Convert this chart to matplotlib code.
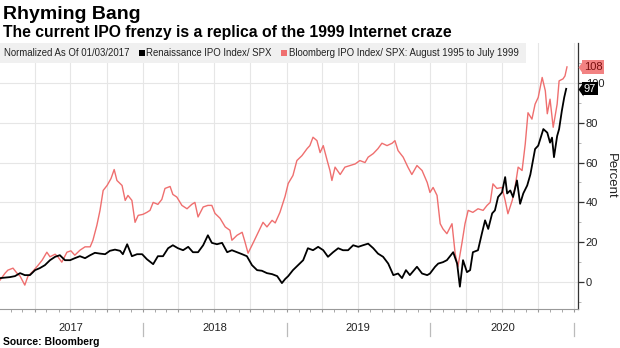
"""Rhyming Bang: Renaissance IPO index vs the 1995-1999 Bloomberg IPO index."""
from datetime import date

import matplotlib

matplotlib.use("Agg")
import matplotlib.dates as mdates  # noqa: E402
import matplotlib.pyplot as plt  # noqa: E402
import matplotlib.transforms as mtransforms  # noqa: E402
import pandas as pd  # noqa: E402
from matplotlib.patches import Rectangle  # noqa: E402
from matplotlib.path import Path  # noqa: E402

# Renaissance IPO Index / SPX, normalized to 01/03/2017 (percent)
black_dates = [
    "2017-01-03", "2017-01-28", "2017-02-10", "2017-02-23", "2017-03-07", "2017-03-20", "2017-04-02", "2017-04-14", "2017-04-27", "2017-05-10",
    "2017-05-23", "2017-06-04", "2017-06-17", "2017-06-30", "2017-07-12", "2017-07-25", "2017-08-07", "2017-08-20", "2017-09-01", "2017-09-14",
    "2017-09-27", "2017-10-09", "2017-10-22", "2017-11-04", "2017-11-11", "2017-11-22", "2017-12-04", "2017-12-17", "2017-12-30", "2018-01-11",
    "2018-01-27", "2018-02-08", "2018-02-21", "2018-03-06", "2018-03-18", "2018-03-31", "2018-04-13", "2018-04-26", "2018-05-08", "2018-05-21",
    "2018-06-03", "2018-06-15", "2018-06-25", "2018-07-08", "2018-07-21", "2018-08-03", "2018-08-15", "2018-08-28", "2018-09-10", "2018-09-22",
    "2018-10-05", "2018-10-18", "2018-10-30", "2018-11-12", "2018-11-25", "2018-12-08", "2018-12-20", "2018-12-28", "2019-01-05", "2019-01-17",
    "2019-01-30", "2019-02-12", "2019-02-24", "2019-03-09", "2019-03-22", "2019-04-04", "2019-04-16", "2019-04-29", "2019-05-12", "2019-05-24",
    "2019-06-06", "2019-06-19", "2019-07-02", "2019-07-14", "2019-07-27", "2019-08-09", "2019-08-21", "2019-09-03", "2019-09-16", "2019-09-29",
    "2019-10-11", "2019-10-21", "2019-10-31", "2019-11-10", "2019-11-28", "2019-12-11", "2019-12-24", "2019-12-31", "2020-01-13", "2020-01-21",
    "2020-02-02", "2020-02-12", "2020-02-20", "2020-02-28", "2020-03-09", "2020-03-16", "2020-03-24", "2020-04-03", "2020-04-11", "2020-04-18",
    "2020-05-01", "2020-05-11", "2020-05-19", "2020-05-27", "2020-06-06", "2020-06-13", "2020-06-21", "2020-07-01", "2020-07-09", "2020-07-14",
    "2020-07-22", "2020-07-29", "2020-08-08", "2020-08-16", "2020-08-24", "2020-09-03", "2020-09-11", "2020-09-23", "2020-10-01", "2020-10-14",
    "2020-10-24", "2020-10-31", "2020-11-05", "2020-11-10", "2020-11-18", "2020-11-23", "2020-11-30", "2020-12-06", "2020-12-11",
]
black_values = [
    2, 2.5, 3, 4.5, 3.5, 3.5, 6, 7, 8.5, 11,
    12.7, 13.5, 11, 11, 12, 13, 12, 13.5, 14.7, 14.3,
    14, 15.7, 16.3, 15.7, 14, 19, 13, 14, 14, 11.5,
    9, 13, 13, 17, 18.5, 17, 16, 17.7, 15, 15,
    18.5, 23.5, 19.7, 19, 19.7, 15, 16, 15, 14, 13,
    8.5, 6, 5.7, 4.5, 4, 3, -0.5, 1.5, 3, 6,
    8.5, 11, 17, 16, 17.7, 16, 12.7, 15, 17, 16,
    16, 18.5, 17.7, 18.5, 19.3, 17, 14.3, 12.7, 9.3, 3.5,
    4.3, 2, 6, 3.5, 7.7, 4.3, 3.5, 4.3, 7.7, 9.3,
    10, 11, 13, 15, 9.3, -2.3, 11, 5, 6, 15,
    16, 24.5, 31, 26.7, 34.5, 36, 42.7, 45, 52.7, 44.5,
    46, 42.7, 51, 39.3, 44.5, 48.5, 54, 66.8, 68.5, 76.8,
    75, 70, 72.5, 62.7, 73.3, 76.8, 86, 92.7, 97,
]

# Bloomberg IPO Index / SPX, August 1995 to July 1999, laid over the same days
red_dates = [
    "2017-01-03", "2017-01-16", "2017-01-23", "2017-02-05", "2017-02-15", "2017-02-23", "2017-03-07", "2017-03-15", "2017-03-28", "2017-04-10",
    "2017-04-20", "2017-05-02", "2017-05-10", "2017-05-23", "2017-05-30", "2017-06-09", "2017-06-22", "2017-07-02", "2017-07-12", "2017-07-25",
    "2017-08-07", "2017-08-20", "2017-08-27", "2017-09-06", "2017-09-14", "2017-09-22", "2017-10-02", "2017-10-12", "2017-10-20", "2017-10-27",
    "2017-11-09", "2017-11-17", "2017-11-24", "2017-12-04", "2017-12-12", "2017-12-20", "2018-01-01", "2018-01-11", "2018-01-19", "2018-01-27",
    "2018-02-08", "2018-02-18", "2018-02-26", "2018-03-11", "2018-03-18", "2018-03-28", "2018-04-10", "2018-04-23", "2018-05-05", "2018-05-13",
    "2018-05-21", "2018-06-03", "2018-06-15", "2018-06-25", "2018-07-03", "2018-07-16", "2018-07-29", "2018-08-10", "2018-08-15", "2018-08-28",
    "2018-09-10", "2018-09-17", "2018-09-25", "2018-10-08", "2018-10-20", "2018-11-02", "2018-11-12", "2018-11-25", "2018-12-03", "2018-12-15",
    "2018-12-28", "2019-01-05", "2019-01-17", "2019-01-27", "2019-02-09", "2019-02-22", "2019-03-01", "2019-03-09", "2019-03-19", "2019-03-27",
    "2019-04-04", "2019-04-14", "2019-04-21", "2019-04-26", "2019-05-04", "2019-05-17", "2019-05-29", "2019-06-11", "2019-06-24", "2019-07-06",
    "2019-07-19", "2019-07-27", "2019-08-09", "2019-08-21", "2019-08-31", "2019-09-13", "2019-09-26", "2019-10-03", "2019-10-11", "2019-10-24",
    "2019-11-05", "2019-11-15", "2019-11-28", "2019-12-11", "2019-12-24", "2019-12-31", "2020-01-08", "2020-01-18", "2020-01-26", "2020-02-02",
    "2020-02-12", "2020-02-25", "2020-03-04", "2020-03-11", "2020-03-21", "2020-03-29", "2020-04-06", "2020-04-18", "2020-05-01", "2020-05-14",
    "2020-05-24", "2020-06-01", "2020-06-08", "2020-06-18", "2020-07-01", "2020-07-09", "2020-07-16", "2020-07-27", "2020-08-03", "2020-08-11",
    "2020-08-21", "2020-08-29", "2020-09-05", "2020-09-15", "2020-09-23", "2020-10-01", "2020-10-11", "2020-10-19", "2020-10-24", "2020-10-31",
    "2020-11-08", "2020-11-18", "2020-11-23", "2020-12-03", "2020-12-08", "2020-12-13",
]
red_values = [
    1, 4.5, 6, 7, 4.5, 3, -1.5, 3, 5.5, 8.5,
    11, 15, 12.7, 14, 12.7, 10, 15, 15.7, 13.5, 16,
    17.7, 17.7, 21, 28.5, 36, 46, 48.5, 52, 56.5, 51,
    48.5, 41, 43.5, 41, 30, 33.5, 34, 35, 36, 40,
    39, 41.5, 47, 48, 44, 42.7, 38.5, 36.8, 39, 40,
    32.7, 37.7, 38.5, 38.5, 34.5, 32, 27.7, 26, 21, 23.5,
    25, 20.3, 14.5, 19.7, 24.7, 30, 27.7, 31, 29.7, 35,
    43, 49.5, 53.5, 61, 63.5, 67, 68.5, 72.7, 71, 65,
    68.5, 61, 56, 51, 57.7, 54, 57.7, 58.5, 59.3, 61,
    60, 62.7, 64.5, 67, 69.7, 68.5, 69.7, 71, 66, 62.7,
    57.7, 54, 58.5, 56, 50, 45, 47.5, 43.5, 29.3, 26.7,
    24.3, 29.3, 14.3, 7.7, 19.3, 29.3, 36, 35, 36.8, 36,
    38.5, 40, 49.3, 47, 47.5, 41, 34.3, 41, 47.5, 57.7,
    56, 69.3, 85, 81.8, 89.3, 92.7, 102.7, 96, 84.5, 91.8,
    77.7, 89.3, 101, 102, 103.5, 108,
]

years = [2017, 2018, 2019, 2020]
y_ticks = [0, 20, 40, 60, 80, 100]
legend_note = "Normalized As Of 01/03/2017"
legend_items = [
    ("Renaissance IPO Index/ SPX", "black"),
    ("Bloomberg IPO Index/ SPX: August 1995 to July 1999", "#ef6f6f"),
]

RED = "#ef6f6f"
W, H = 620, 348
SANS = ["Liberation Sans", "DejaVu Sans"]
plt.rcParams["font.family"] = SANS

fig = plt.figure(figsize=(W / 100, H / 100), dpi=100)
ax = fig.add_axes([0, 1 - 309 / H, 578 / W, 266 / H])

ax.plot(pd.to_datetime(red_dates), red_values, color=RED, lw=1.0, zorder=3)
ax.plot(pd.to_datetime(black_dates), black_values, color="black", lw=1.3, zorder=4)

ax.set_xlim(date(2017, 1, 3), date(2021, 1, 10))
ax.set_ylim(-13.5, 120)

ax.xaxis.set_major_locator(mdates.MonthLocator(bymonth=[1, 4, 7, 10]))
ax.xaxis.set_minor_locator(mdates.MonthLocator())
ax.xaxis.set_major_formatter(plt.NullFormatter())
ax.tick_params(axis="x", which="both", length=2.5, color="#999999", direction="out")

ax.yaxis.tick_right()
ax.set_yticks(y_ticks)
ax.set_yticks(range(-10, 120, 20), minor=True)
ax.tick_params(axis="y", which="major", length=4, width=0.9, color="#333333",
               labelsize=8, labelcolor="#222222", pad=1.5)
ax.tick_params(axis="y", which="minor", length=2.5, color="#aaaaaa")
ax.yaxis.set_label_position("right")
ax.set_ylabel("Percent", rotation=270, fontsize=9.5, color="#222222", va="center")
ax.yaxis.set_label_coords(611 / 578, 0.5)

ax.grid(True, which="major", color="#e6e6e6", lw=0.8)
ax.set_axisbelow(True)
for side in ("left", "top"):
    ax.spines[side].set_visible(False)
ax.spines["right"].set_color("#333333")
ax.spines["right"].set_linewidth(0.9)
ax.spines["bottom"].set_color("#999999")
ax.spines["bottom"].set_linewidth(0.8)

# year labels with separators below the axis
xblend = mtransforms.blended_transform_factory(ax.transData, ax.transAxes)
for yr in years:
    ax.text(date(yr, 7, 2), -0.073, str(yr), transform=xblend, ha="center",
            va="center", fontsize=8, color="#222222")
    ax.plot([date(yr + 1, 1, 1)] * 2, [-0.052, -0.102], transform=xblend,
            color="#bbbbbb", lw=0.9, clip_on=False)

# last-value tags on the right axis
tag_path = Path([(-5, 0), (0, -7), (0, 7), (-5, 0)])
yblend = mtransforms.blended_transform_factory(ax.transAxes, ax.transData)
for val, fc, tc in [(red_values[-1], "#f28282", "#7a0f0f"),
                    (black_values[-1], "black", "white")]:
    ax.annotate(f"{val:.0f}", xy=(1, val), xycoords=yblend, xytext=(6, 0),
                textcoords="offset pixels", ha="left", va="center", fontsize=8,
                color=tc, annotation_clip=False, zorder=6,
                bbox=dict(boxstyle="square,pad=0.15", fc=fc, ec="none"))
    tip = mtransforms.offset_copy(yblend, fig=fig, x=5, y=0, units="dots")
    ax.plot([1], [val], marker=tag_path, ms=10, color=fc, mec="none",
            transform=tip, clip_on=False, zorder=6)

# legend strip
fig.add_artist(Rectangle((0, 1 - 63 / H), 526 / W, 20 / H, transform=fig.transFigure,
                         fc="#f0f0f0", ec="none", zorder=5))
renderer = fig.canvas.get_renderer()
ly = 1 - 53 / H
t = fig.text(4 / W, ly, legend_note, fontsize=6.9, va="center", color="#222222", zorder=6)
x = t.get_window_extent(renderer).x1 + 9
for label, color in legend_items:
    fig.add_artist(Rectangle((x / W, ly - 3 / H), 6 / W, 6 / H, transform=fig.transFigure,
                             fc=color, ec="none", zorder=6))
    t = fig.text((x + 7.5) / W, ly, label, fontsize=6.9, va="center", color="#222222", zorder=6)
    x = t.get_window_extent(renderer).x1 + 10

fig.text(3 / W, 1 - 19 / H, "Rhyming Bang", fontsize=14, fontweight="bold", va="baseline")
fig.text(3 / W, 1 - 37 / H, "The current IPO frenzy is a replica of the 1999 Internet craze",
         fontsize=11.3, fontweight="bold", va="baseline")
fig.text(3 / W, 1 - 342 / H, "Source: Bloomberg", fontsize=7.5, fontweight="bold", va="center")

fig.savefig("out.png", dpi=100)
